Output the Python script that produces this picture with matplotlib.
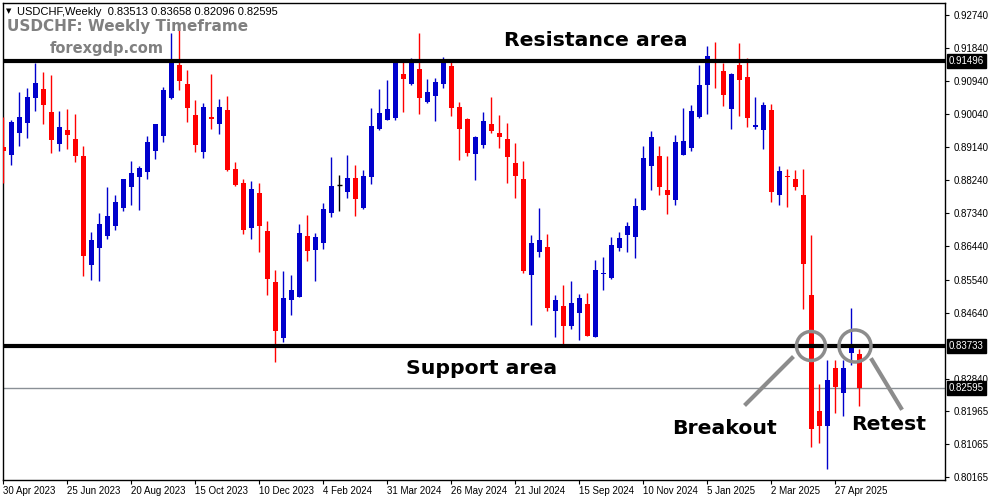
import matplotlib
matplotlib.use("Agg")
import matplotlib.pyplot as plt
from matplotlib.patches import Ellipse
from matplotlib.lines import Line2D

opens = [0.8916,0.8893,0.8954,0.8981,0.9049,0.9073,0.9010,0.8924,0.8961,0.8936,
 0.8890,0.8594,0.8641,0.8673,0.8701,0.8749,0.8807,0.8834,0.8848,0.8905,
 0.8946,0.9047,0.9138,0.9086,0.9002,0.8902,0.8996,0.8978,0.9015,0.8855,
 0.8817,0.8694,0.8790,0.8686,0.8547,0.8396,0.8499,0.8507,0.8673,0.8635,
 0.8654,0.8736,0.8811,0.8793,0.8830,0.8749,0.8834,0.8964,0.8989,0.8995,
 0.9113,0.9086,0.9127,0.9038,0.9054,0.9087,0.9135,0.9024,0.8992,0.8897,
 0.8921,0.8977,0.8953,0.8936,0.8871,0.8828,0.8567,0.8630,0.8643,0.8469,
 0.8483,0.8428,0.8464,0.8487,0.8398,0.8569,0.8559,0.8641,0.8676,0.8671,
 0.8744,0.8864,0.8890,0.8798,0.8771,0.8894,0.8913,0.8997,0.9084,0.9152,
 0.9122,0.9019,0.9138,0.9105,0.8969,0.8962,0.9015,0.8785,0.8836,0.8828,
 0.8784,0.8512,0.8196,0.8154,0.8313,0.8246,0.8353,0.83513]
highs = [0.8997,0.8988,0.9065,0.9076,0.9144,0.9120,0.9111,0.9014,0.9019,0.9005,
 0.8917,0.8684,0.8736,0.8807,0.8784,0.8828,0.8877,0.8864,0.8946,0.8977,
 0.9077,0.9226,0.9244,0.9124,0.9043,0.9034,0.9113,0.9045,0.9053,0.8874,
 0.8828,0.8822,0.8817,0.8713,0.8580,0.8577,0.8566,0.8705,0.8730,0.8681,
 0.8762,0.8888,0.8839,0.8893,0.8866,0.8852,0.9021,0.9073,0.9097,0.9146,
 0.9146,0.9157,0.9225,0.9100,0.9103,0.9160,0.9154,0.9037,0.8995,0.8946,
 0.9010,0.9051,0.9002,0.8980,0.8926,0.8877,0.8675,0.8749,0.8678,0.8512,
 0.8539,0.8550,0.8515,0.8517,0.8607,0.8615,0.8670,0.8683,0.8711,0.8776,
 0.8917,0.8958,0.8917,0.8890,0.8947,0.9022,0.9029,0.9138,0.9190,0.9200,
 0.9144,0.9116,0.9199,0.9157,0.9052,0.9037,0.9032,0.8864,0.8855,0.8852,
 0.8855,0.8675,0.8270,0.8335,0.8335,0.8335,0.8477,0.83658]
lows = [0.8818,0.8866,0.8917,0.8940,0.9013,0.8977,0.8898,0.8904,0.8910,0.8874,
 0.8564,0.8553,0.8550,0.8664,0.8689,0.8741,0.8757,0.8743,0.8828,0.8882,
 0.8929,0.9045,0.9070,0.8983,0.8901,0.8886,0.8964,0.8950,0.8850,0.8809,
 0.8678,0.8664,0.8630,0.8512,0.8330,0.8385,0.8458,0.8507,0.8605,0.8551,
 0.8638,0.8725,0.8741,0.8777,0.8728,0.8747,0.8815,0.8962,0.8989,0.8989,
 0.9011,0.9083,0.9005,0.9034,0.8986,0.9076,0.8999,0.8880,0.8891,0.8826,
 0.8913,0.8954,0.8913,0.8817,0.8777,0.8573,0.8431,0.8616,0.8469,0.8398,
 0.8376,0.8418,0.8390,0.8401,0.8398,0.8526,0.8556,0.8633,0.8630,0.8613,
 0.8744,0.8799,0.8785,0.8733,0.8758,0.8894,0.8905,0.8995,0.9005,0.9076,
 0.9027,0.8965,0.8999,0.8969,0.8965,0.8910,0.8766,0.8758,0.8752,0.8799,
 0.8475,0.8099,0.8110,0.8039,0.8192,0.8183,0.8322,0.82096]
closes = [0.8905,0.8984,0.8997,0.9051,0.9089,0.9030,0.8935,0.8969,0.8947,0.8891,
 0.8618,0.8662,0.8705,0.8727,0.8765,0.8828,0.8844,0.8857,0.8928,0.8977,
 0.9070,0.9144,0.9095,0.9022,0.8920,0.9024,0.8992,0.9024,0.8852,0.8812,
 0.8689,0.8800,0.8700,0.8556,0.8414,0.8504,0.8526,0.8681,0.8633,0.8670,
 0.8746,0.8809,0.8811,0.8830,0.8773,0.8836,0.8972,0.9007,0.9018,0.9146,
 0.9100,0.9146,0.9049,0.9064,0.9092,0.9146,0.9022,0.8965,0.8899,0.8943,
 0.8986,0.8957,0.8943,0.8888,0.8837,0.8578,0.8653,0.8662,0.8477,0.8498,
 0.8428,0.8490,0.8504,0.8401,0.8580,0.8573,0.8648,0.8667,0.8700,0.8754,
 0.8885,0.8942,0.8807,0.8785,0.8928,0.8931,0.9013,0.9083,0.9162,0.9146,
 0.9056,0.9113,0.9098,0.8995,0.8975,0.9029,0.8793,0.8849,0.8832,0.8807,
 0.8597,0.8148,0.8156,0.8280,0.8262,0.8313,0.8369,0.82595]

date_labels = ["30 Apr 2023","25 Jun 2023","20 Aug 2023","15 Oct 2023","10 Dec 2023",
 "4 Feb 2024","31 Mar 2024","26 May 2024","21 Jul 2024","15 Sep 2024","10 Nov 2024",
 "5 Jan 2025","2 Mar 2025","27 Apr 2025"]
date_idx = [0,8,16,24,32,40,48,56,64,72,80,88,96,104]
price_ticks = [0.92740,0.91840,0.90940,0.90040,0.89140,0.88240,0.87340,0.86440,
 0.85540,0.84640,0.82840,0.81965,0.81065,0.80165]
resistance = 0.91496
support = 0.83733
last_price = 0.82595

SMALL = ["Liberation Sans", "DejaVu Sans"]
FS = 7
W, H = 991, 501
fig = plt.figure(figsize=(W/100, H/100), dpi=100)
fig.patch.set_facecolor("white")
def fx(x): return x / W
def fy(y): return 1 - y / H
ax = fig.add_axes([fx(3), fy(480), fx(945) - fx(3), fy(3) - fy(480)])
ax.set_xlim(-0.04, 117.7)
ax.set_ylim(0.80083, 0.93067)

BLUE, RED = "#0000CC", "#FF0000"
for i in range(len(opens)):
    o, h, l, c = opens[i], highs[i], lows[i], closes[i]
    col = BLUE if c > o else (RED if c < o else "black")
    ax.vlines(i, l, h, color=col, lw=1.0, zorder=3)
    bot, top = min(o, c), max(o, c)
    if top - bot < 0.00015:
        ax.hlines(o, i - 0.35, i + 0.35, color=col, lw=1.0, zorder=3)
    else:
        ax.bar(i, top - bot, bottom=bot, width=0.65, color=col, lw=0, zorder=3)

ax.axhline(resistance, color="black", lw=3, zorder=4)
ax.axhline(support, color="black", lw=3, zorder=4)
ax.axhline(last_price, color="#8a9096", lw=1, zorder=2)

ax.yaxis.tick_right()
ax.set_yticks(price_ticks)
ax.set_yticklabels([f"{p:.5f}" for p in price_ticks], fontsize=FS, family=SMALL)
ax.set_xticks(date_idx)
ax.set_xticklabels(date_labels, fontsize=FS, ha="left", family=SMALL)
ax.tick_params(axis="x", length=3, pad=1.5)
ax.tick_params(axis="y", length=3, pad=3)
for s in ax.spines.values():
    s.set_linewidth(1)

for val in (resistance, support, last_price):
    ax.text(1.004, val, f"{val:.5f}", transform=ax.get_yaxis_transform(),
            fontsize=FS, family=SMALL, color="white", va="center", ha="left", zorder=10,
            bbox=dict(boxstyle="square,pad=0.2", fc="black", ec="black"), clip_on=False)

fig.text(fx(17), fy(12), "USDCHF,Weekly  0.83513 0.83658 0.82096 0.82595", fontsize=8, family=SMALL, va="center")
fig.text(fx(6), fy(11.5), "\u25bc", fontsize=5, va="center")
fig.text(fx(7), fy(26), "USDCHF: Weekly Timeframe", fontsize=11, fontweight="bold", color="#808080", va="center")
fig.text(fx(107), fy(48), "forexgdp.com", fontsize=10.5, fontweight="bold", color="#808080", va="center", ha="center")
fig.text(fx(596), fy(41), "Resistance area", fontsize=14.7, fontweight="bold", va="center", ha="center")
fig.text(fx(482), fy(369), "Support area", fontsize=14.7, fontweight="bold", va="center", ha="center")
fig.text(fx(725), fy(428), "Breakout", fontsize=14.7, fontweight="bold", va="center", ha="center")
fig.text(fx(889), fy(425), "Retest", fontsize=14.7, fontweight="bold", va="center", ha="center")

GRAY = "#8c8c8c"
for cx, cy, r in ((811, 346, 14.5), (855, 346, 16)):
    fig.add_artist(Ellipse((fx(cx), fy(cy)), 2 * r / W, 2 * r / H, transform=fig.transFigure,
                           fill=False, ec=GRAY, lw=2.5, zorder=20))
fig.add_artist(Line2D([fx(792), fx(746)], [fy(358), fy(404)], transform=fig.transFigure, color=GRAY, lw=3))
fig.add_artist(Line2D([fx(872), fx(901)], [fy(360), fy(408)], transform=fig.transFigure, color=GRAY, lw=3))

fig.savefig("out.png", dpi=100)
